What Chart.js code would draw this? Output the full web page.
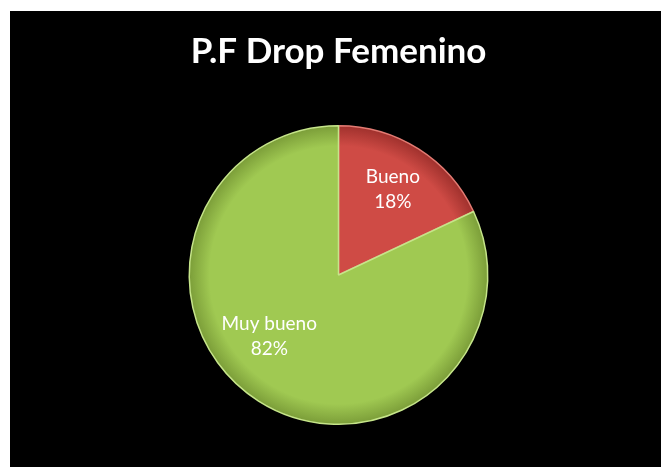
<!DOCTYPE html>
<html>
<head>
<meta charset="utf-8">
<script src="https://cdn.jsdelivr.net/npm/chart.js@4/dist/chart.umd.min.js"></script>
<style>
  html, body { margin: 0; padding: 0; background: #ffffff; }
  #frame {
    position: absolute; left: 10px; top: 11px;
    width: 651px; height: 456px; background: #000000;
  }
</style>
</head>
<body>
<div id="frame"><canvas id="pie"></canvas></div>
<script>
// Ratings for the women's drop test
const categories = ['Bueno', 'Muy bueno'];
const percentages = [18, 82];
const chartTitle = 'P.F Drop Femenino';

// Base fill per slice: [centre, rim, edge highlight]
const palette = [
  ['#cf4b45', '#9e302c', '#e37b73'],
  ['#a0c952', '#7a9c38', '#c6e58a']
];

// Radial shading: flat face with a darker rim, like a bevelled disc
function sliceFill(ctx) {
  const chart = ctx.chart;
  const base = palette[ctx.dataIndex % palette.length];
  const area = chart.chartArea;
  if (!area) return base[0];
  const cx = (area.left + area.right) / 2;
  const cy = (area.top + area.bottom) / 2;
  const r = Math.min(area.right - area.left, area.bottom - area.top) / 2;
  const g = chart.ctx.createRadialGradient(cx, cy, 0, cx, cy, r);
  g.addColorStop(0, base[0]);
  g.addColorStop(0.86, base[0]);
  g.addColorStop(1, base[1]);
  return g;
}

// Category name and percentage inside each slice
const sliceLabels = {
  id: 'sliceLabels',
  afterDatasetsDraw(chart, args, opts) {
    const { ctx } = chart;
    const meta = chart.getDatasetMeta(0);
    const ds = chart.data.datasets[0];
    const total = ds.data.reduce((a, b) => a + b, 0);
    ctx.save();
    ctx.fillStyle = '#ffffff';
    ctx.font = opts.font;
    ctx.textAlign = 'center';
    ctx.textBaseline = 'middle';
    meta.data.forEach((arc, i) => {
      const p = arc.getProps(['x', 'y', 'startAngle', 'endAngle', 'outerRadius'], true);
      const tweak = (opts.angleShift[i] || 0) * Math.PI / 180;
      const mid = (p.startAngle + p.endAngle) / 2 + tweak;
      const r = p.outerRadius * (opts.radius[i] || 0.65);
      const cx = p.x + Math.cos(mid) * r;
      const cy = p.y + Math.sin(mid) * r;
      const pct = Math.round(ds.data[i] / total * 100) + '%';
      ctx.fillText(chart.data.labels[i], cx, cy - opts.lineGap / 2);
      ctx.fillText(pct, cx, cy + opts.lineGap / 2);
    });
    ctx.restore();
  }
};

new Chart(document.getElementById('pie'), {
  type: 'pie',
  data: {
    labels: categories,
    datasets: [{
      data: percentages,
      backgroundColor: sliceFill,
      borderColor: (ctx) => palette[ctx.dataIndex % palette.length][2],
      borderWidth: 1.5
    }]
  },
  options: {
    responsive: true,
    maintainAspectRatio: false,
    animation: false,
    layout: { padding: { left: 6, right: 0, top: 0, bottom: 42 } },
    plugins: {
      legend: { display: false },
      tooltip: { enabled: false },
      title: {
        display: true,
        text: chartTitle,
        color: '#ffffff',
        font: { family: 'Lato', size: 35, weight: 'bold', lineHeight: 1.2 },
        padding: { top: 20, bottom: 52 }
      },
      sliceLabels: {
        font: '19px Lato',
        lineGap: 25,
        radius: [0.68, 0.62],
        angleShift: [0, 16]
      }
    }
  },
  plugins: [sliceLabels]
});
</script>
</body>
</html>
